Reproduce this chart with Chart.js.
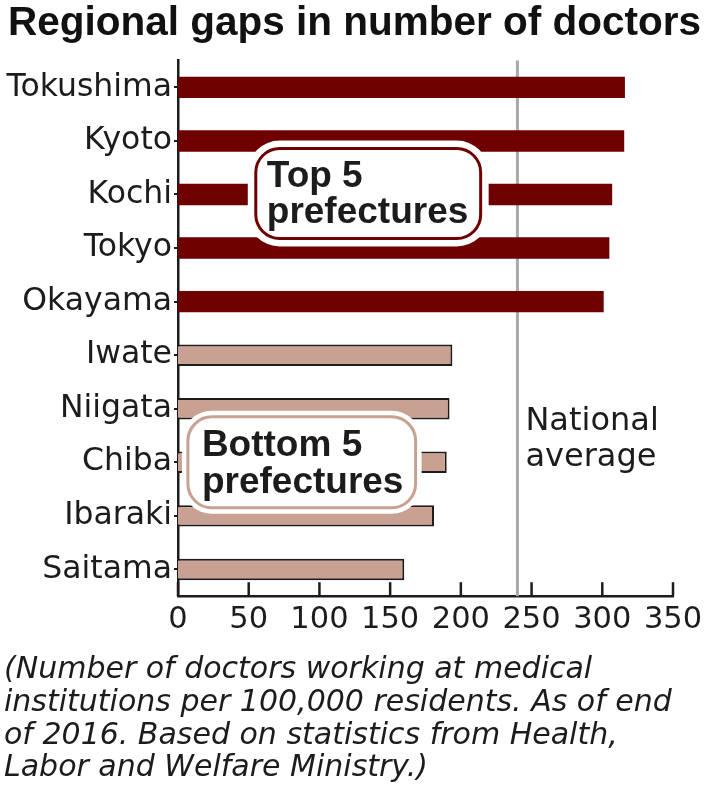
<!DOCTYPE html>
<html>
<head>
<meta charset="utf-8">
<title>Regional gaps in number of doctors</title>
<script src="https://cdn.jsdelivr.net/npm/chart.js@4.4.1/dist/chart.umd.min.js"></script>
<style>
  html, body { margin: 0; padding: 0; background: #fff; }
  #wrap { width: 705px; height: 800px; }
</style>
</head>
<body>
<div id="wrap"><canvas id="doctorGap"></canvas></div>
<script>
// top 5 prefectures first, then bottom 5
const prefectures = ["Tokushima", "Kyoto", "Kochi", "Tokyo", "Okayama", "Iwate", "Niigata", "Chiba", "Ibaraki", "Saitama"];
const doctorsPer100k = [316, 315.5, 307, 305, 301, 194, 192, 190, 181, 160];
const rankGroup = ["top", "top", "top", "top", "top", "bottom", "bottom", "bottom", "bottom", "bottom"];
const nationalAverage = 240;
const xTicks = [0, 50, 100, 150, 200, 250, 300, 350];
const footnote = [
    "(Number of doctors working at medical",
    "institutions per 100,000 residents. As of end",
    "of 2016. Based on statistics from Health,",
    "Labor and Welfare Ministry.)"
];

const ink = "#1c1c1c";
const topRed = "#6e0000";
const bottomTan = "#c9a193";
const regular = "'DejaVu Sans', sans-serif";
const bold = "'Liberation Sans', Arial, sans-serif";

Chart.defaults.font.family = regular;
Chart.defaults.color = ink;

// rounded label box with a white halo round it
function labelBox(ctx, left, right, cy, h, halo, stroke, lines, padLeft, baselines) {
    const r = 24;
    ctx.save();
    ctx.fillStyle = "#fff";
    ctx.beginPath();
    ctx.roundRect(left - halo, cy - h / 2 - halo, right - left + halo * 2, h + halo * 2, r + halo);
    ctx.fill();
    ctx.strokeStyle = stroke;
    ctx.lineWidth = 3;
    ctx.beginPath();
    ctx.roundRect(left, cy - h / 2, right - left, h, r);
    ctx.stroke();
    ctx.fillStyle = ink;
    ctx.font = "bold 37px " + bold;
    ctx.textAlign = "left";
    ctx.textBaseline = "alphabetic";
    lines.forEach((t, i) => ctx.fillText(t, left + padLeft, cy + baselines[i]));
    ctx.restore();
}

const overlays = {
    id: "overlays",
    beforeDatasetsDraw(chart) {
        const { ctx, chartArea, scales: { x } } = chart;
        const ax = x.getPixelForValue(nationalAverage);
        ctx.save();
        ctx.strokeStyle = "#a9a9a9";
        ctx.lineWidth = 3;
        ctx.beginPath();
        ctx.moveTo(ax, chartArea.top);
        ctx.lineTo(ax, chartArea.bottom);
        ctx.stroke();
        ctx.restore();
    },
    afterDatasetsDraw(chart) {
        const { ctx, chartArea, scales: { x, y } } = chart;

        // inward tick marks on the value axis
        ctx.save();
        ctx.strokeStyle = ink;
        ctx.lineWidth = 2.5;
        xTicks.forEach(v => {
            const px = x.getPixelForValue(v);
            ctx.beginPath();
            ctx.moveTo(px, chartArea.bottom);
            ctx.lineTo(px, chartArea.bottom - 14);
            ctx.stroke();
        });
        ctx.restore();

        labelBox(ctx, x.getPixelForValue(55), x.getPixelForValue(214), y.getPixelForValue(2) - 1, 90, 8,
            topRed, ["Top 5", "prefectures"], 11, [-7, 29]);
        labelBox(ctx, x.getPixelForValue(7), x.getPixelForValue(168), y.getPixelForValue(7), 91, 6,
            bottomTan, ["Bottom 5", "prefectures"], 14, [-6.5, 30.5]);

        const ax = x.getPixelForValue(nationalAverage) + 8;
        const cy = y.getPixelForValue(7);
        ctx.save();
        ctx.fillStyle = ink;
        ctx.font = "32px " + regular;
        ctx.textAlign = "left";
        ctx.textBaseline = "alphabetic";
        ctx.fillText("National", ax, cy - 32);
        ctx.fillText("average", ax, cy + 4);
        ctx.restore();
    }
};

new Chart(document.getElementById("doctorGap"), {
    type: "bar",
    data: {
        labels: prefectures,
        datasets: [{
            data: doctorsPer100k,
            backgroundColor: rankGroup.map(g => g === "top" ? topRed : bottomTan),
            borderColor: rankGroup.map(g => g === "top" ? topRed : ink),
            borderWidth: rankGroup.map(g => g === "top" ? 0 : 2),
            barPercentage: 0.4,
            categoryPercentage: 1
        }]
    },
    options: {
        indexAxis: "y",
        responsive: true,
        maintainAspectRatio: false,
        animation: false,
        layout: { padding: { left: 4, right: 0, top: 0, bottom: 0 } },
        plugins: {
            legend: { display: false },
            tooltip: { enabled: false },
            title: {
                display: true,
                text: "Regional gaps in number of doctors",
                align: "center",
                color: "#111",
                font: { family: bold, size: 40.5, weight: "bold", lineHeight: 1.2 },
                padding: { top: 0, bottom: 12 }
            },
            subtitle: {
                display: true,
                position: "bottom",
                align: "start",
                text: footnote,
                color: ink,
                font: { family: regular, size: 30, style: "italic", lineHeight: 1.09 },
                padding: { top: 16, bottom: 15 }
            }
        },
        scales: {
            x: {
                min: 0,
                max: 350,
                afterBuildTicks: scale => { scale.ticks = xTicks.map(v => ({ value: v })); },
                afterFit: scale => { scale.paddingRight = 32; scale.height = 42; },
                grid: { display: false },
                border: { display: true, color: ink, width: 2.5 },
                ticks: { font: { size: 30.5 }, color: ink, padding: -2, maxRotation: 0 }
            },
            y: {
                afterFit: scale => { scale.width = 174; },
                grid: { display: true, drawOnChartArea: false, drawTicks: true, tickLength: 4, offset: false, color: ink, lineWidth: 2 },
                border: { display: true, color: ink, width: 2.5 },
                ticks: { font: { size: 31.5 }, color: ink, padding: 2 }
            }
        }
    },
    plugins: [overlays]
});
</script>
</body>
</html>
